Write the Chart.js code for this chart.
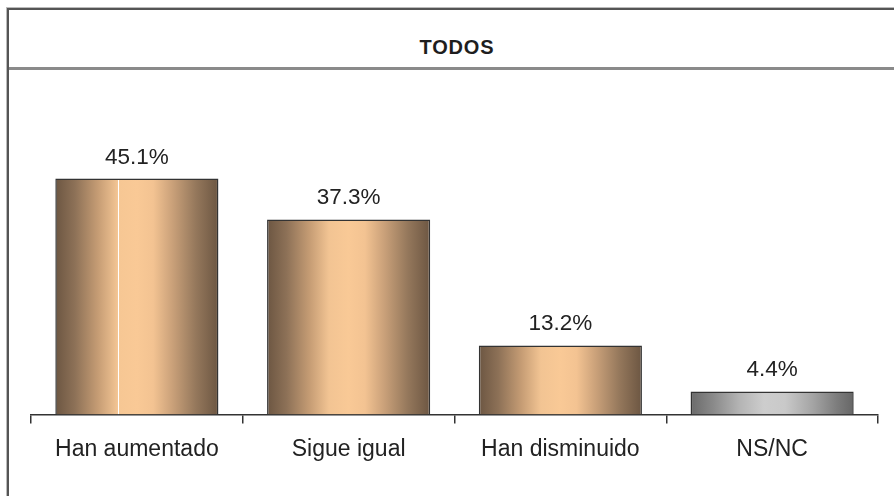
<!DOCTYPE html>
<html>
<head>
<meta charset="utf-8">
<script src="https://cdn.jsdelivr.net/npm/chart.js@4/dist/chart.umd.min.js"></script>
<style>
  html, body { margin: 0; padding: 0; background: #fff; overflow: hidden; }
  body { width: 894px; height: 496px; position: relative; font-family: "Liberation Sans", Arial, sans-serif; }
  #frame { position: absolute; left: 7px; top: 8px; width: 1000px; height: 600px;
           border-left: 2px solid #555; border-top: 2px solid #555; box-shadow: -1px -1px 0 #bbb; }
  #titlebox { position: absolute; left: 0; top: 0; right: 0; height: 57px; border-bottom: 3px solid #8a8a8a; }
  #title { position: absolute; left: 10px; width: 894px; top: 36px; text-align: center;
           font-weight: bold; font-size: 20px; color: #1e1e1e; letter-spacing: 0.8px; }
  #chart { position: absolute; left: 0; top: 0; }
</style>
</head>
<body>
<div id="frame"><div id="titlebox"></div></div>
<div id="title">TODOS</div>
<canvas id="chart" width="894" height="496"></canvas>
<script>
const categories = ['Han aumentado', 'Sigue igual', 'Han disminuido', 'NS/NC'];
const values = [45.1, 37.3, 13.2, 4.4];
const valueLabels = ['45.1%', '37.3%', '13.2%', '4.4%'];

const brownStops = [[0, '#6c5642'], [0.12, '#8d7157'], [0.26, '#c59c74'], [0.38, '#f2c493'], [0.5, '#f9c996'],
                    [0.6, '#f3c392'], [0.72, '#c9a079'], [0.86, '#95785c'], [1, '#6c5642']];
const grayStops = [[0, '#6a6a6a'], [0.14, '#8a8a8a'], [0.3, '#b4b4b4'], [0.45, '#cdcdcd'], [0.58, '#c9c9c9'],
                   [0.75, '#a4a4a4'], [0.9, '#7c7c7c'], [1, '#666']];

const CAT_PCT = 0.9, BAR_PCT = 0.856;

function barFill(ctx) {
  const chart = ctx.chart;
  const x = chart.scales.x;
  if (!x || !chart.chartArea) return '#d9b088';
  const i = ctx.dataIndex;
  const w = (x.width / categories.length) * CAT_PCT * BAR_PCT;
  const cx = x.getPixelForValue(i);
  const g = chart.ctx.createLinearGradient(cx - w / 2, 0, cx + w / 2, 0);
  const stops = categories[i] === 'NS/NC' ? grayStops : brownStops;
  stops.forEach(s => g.addColorStop(s[0], s[1]));
  if (i === 0) {
    // thin light seam in the first bar
    g.addColorStop(0.384, '#f5c795');
    g.addColorStop(0.385, '#ffffff');
    g.addColorStop(0.392, '#ffffff');
    g.addColorStop(0.393, '#f6c794');
  }
  return g;
}

const valueLabelPlugin = {
  id: 'valueLabels',
  afterDatasetsDraw(chart) {
    const c = chart.ctx;
    const meta = chart.getDatasetMeta(0);
    c.save();
    c.font = '22.5px "Liberation Sans", Arial, sans-serif';
    c.fillStyle = '#222';
    c.textAlign = 'center';
    c.textBaseline = 'alphabetic';
    meta.data.forEach((bar, i) => {
      c.fillText(valueLabels[i], bar.x, bar.y - 15);
    });
    c.restore();
  }
};

new Chart(document.getElementById('chart'), {
  type: 'bar',
  data: {
    labels: categories,
    datasets: [{
      data: values,
      backgroundColor: barFill,
      borderColor: '#333',
      borderWidth: 1.5,
      categoryPercentage: CAT_PCT,
      barPercentage: BAR_PCT
    }]
  },
  options: {
    responsive: false,
    animation: false,
    events: [],
    layout: { padding: { left: 31, right: 16, top: 153, bottom: 21 } },
    plugins: { legend: { display: false }, tooltip: { enabled: false } },
    scales: {
      x: {
        grid: { display: true, offset: true, drawOnChartArea: false, drawTicks: true, tickLength: 9, color: '#333', lineWidth: 1.5 },
        border: { display: true, color: '#333', width: 1.5 },
        ticks: { color: '#222', padding: 12, font: { size: 23, family: '"Liberation Sans", Arial, sans-serif' } }
      },
      y: { display: false, min: 0, max: 50 }
    }
  },
  plugins: [valueLabelPlugin]
});
</script>
</body>
</html>
